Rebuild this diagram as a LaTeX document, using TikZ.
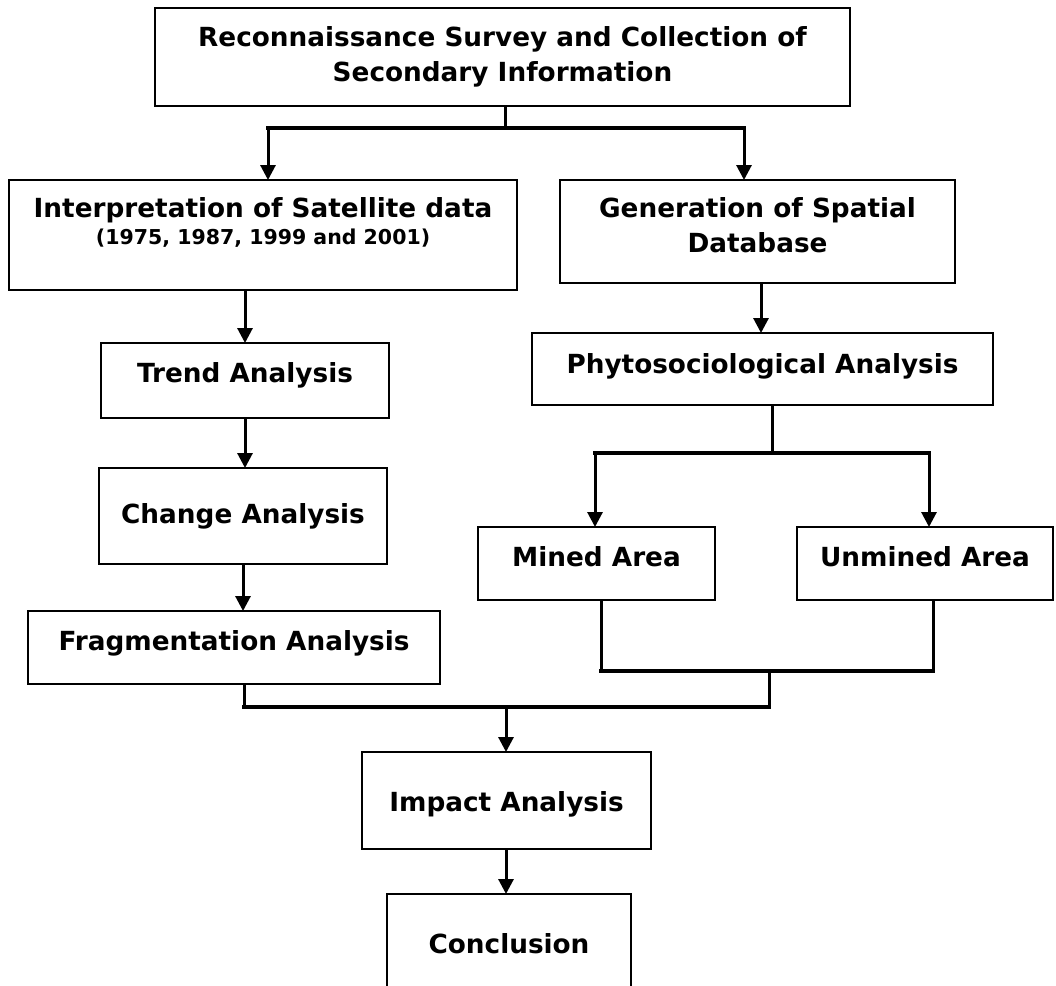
\documentclass[tikz,border=0pt]{standalone}
\usepackage{fontspec}
\setmainfont{DejaVu Sans}
\usetikzlibrary{arrows.meta}
\newcommand\boxtext[2]{\raisebox{#1}[\height][\depth]{\begin{tabular}{@{}c@{}}#2\end{tabular}}}
\begin{document}
\begin{tikzpicture}[x=1pt,y=-1pt,
  flowbox/.style={draw, line width=2.2pt, inner sep=0pt, outer sep=0pt, anchor=north west,
    font=\fontsize{26.3}{35}\selectfont\bfseries},
  conn/.style={line width=3pt},
  bar/.style={line width=4.5pt, line cap=rect},
  arr/.style={line width=3pt, -{Triangle[length=15pt,width=15pt]}}]
\useasboundingbox (0,0) rectangle (1056,985);
\clip (0,0) rectangle (1056,985);
% boxes
\node[flowbox, minimum width=695, minimum height=98] (top) at (155,8)
  {\boxtext{0pt}{Reconnaissance Survey and Collection of\\Secondary Information}};
\node[flowbox, minimum width=508, minimum height=110] (interp) at (9,180)
  {\boxtext{11pt}{Interpretation of Satellite data\\[-8pt]{\fontsize{20.5}{26}\selectfont (1975, 1987, 1999 and 2001)}}};
\node[flowbox, minimum width=395, minimum height=103] (gen) at (560,180)
  {\boxtext{4pt}{Generation of Spatial\\Database}};
\node[flowbox, minimum width=288, minimum height=75] (trend) at (101,343)
  {\boxtext{5pt}{Trend Analysis}};
\node[flowbox, minimum width=461, minimum height=72] (phyto) at (532,333)
  {\boxtext{3pt}{Phytosociological Analysis}};
\node[flowbox, minimum width=288, minimum height=96] (change) at (99,468)
  {\boxtext{0pt}{Change Analysis}};
\node[flowbox, minimum width=412, minimum height=73] (frag) at (28,611)
  {\boxtext{4pt}{Fragmentation Analysis}};
\node[flowbox, minimum width=237, minimum height=73] (mined) at (478,527)
  {\boxtext{4pt}{Mined Area}};
\node[flowbox, minimum width=256, minimum height=73] (unmined) at (797,527)
  {\boxtext{4pt}{Unmined Area}};
\node[flowbox, minimum width=289, minimum height=97] (impact) at (362,752)
  {\boxtext{-4pt}{Impact Analysis}};
\node[flowbox, minimum width=244, minimum height=98] (concl) at (387,894)
  {\boxtext{-3pt}{Conclusion}};
% junctions
\coordinate (j1) at (505,128);
\coordinate (j1L) at (268,128);
\coordinate (j1R) at (744,128);
\coordinate (j2) at (772,453);
\coordinate (j2L) at (595,453);
\coordinate (j2R) at (929,453);
\coordinate (j2G) at (761,300);
\coordinate (j3) at (769,671);
\coordinate (j3L) at (601,671);
\coordinate (j3R) at (933,671);
\coordinate (j4) at (506,707);
\coordinate (j4L) at (244,707);
\coordinate (j4R) at (769,707);
% connectors
\draw[conn] (top.south -| j1) -- (j1);
\draw[bar] (j1L) -- (j1R);
\draw[arr] (j1L) -- (j1L |- interp.north);
\draw[arr] (j1R) -- (j1R |- gen.north);
\draw[arr] (trend.north |- interp.south) -- (trend.north);
\draw[arr] (gen.south -| j2G) -- (j2G |- phyto.north);
\draw[arr] (trend.south) -- (trend.south |- change.north);
\draw[arr] (change.south) -- (change.south |- frag.north);
\draw[conn] (phyto.south -| j2) -- (j2);
\draw[bar] (j2L) -- (j2R);
\draw[arr] (j2L) -- (j2L |- mined.north);
\draw[arr] (j2R) -- (j2R |- unmined.north);
\draw[conn] (mined.south -| j3L) -- (j3L);
\draw[conn] (unmined.south -| j3R) -- (j3R);
\draw[bar] (j3L) -- (j3R);
\draw[conn] (j3) -- (j4R);
\draw[conn] (frag.south -| j4L) -- (j4L);
\draw[bar] (j4L) -- (j4R);
\draw[arr] (j4) -- (j4 |- impact.north);
\draw[arr] (impact.south -| j4) -- (j4 |- concl.north);
\end{tikzpicture}
\end{document}
